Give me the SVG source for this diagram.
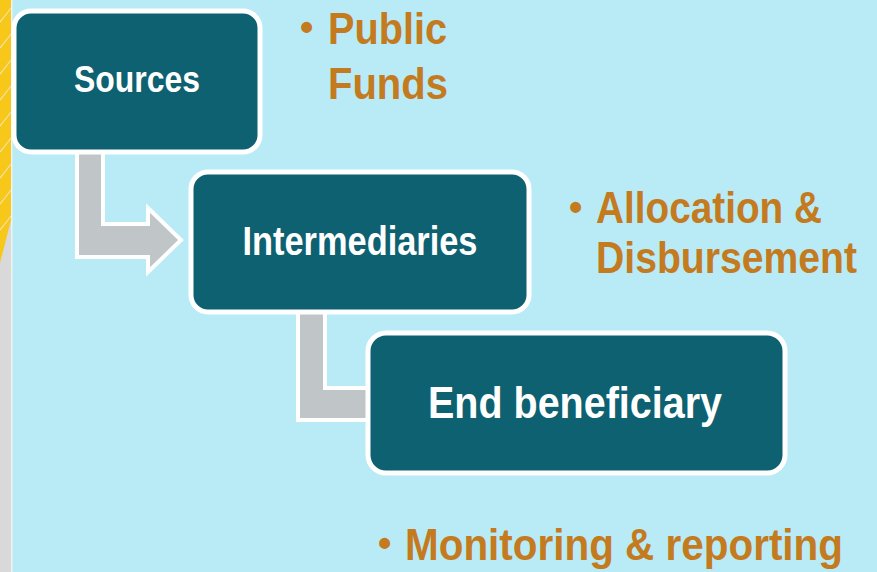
<svg xmlns="http://www.w3.org/2000/svg" width="877" height="572" viewBox="0 0 877 572">
<style>
.box{fill:#0d6170;stroke:#ffffff;stroke-width:5}
.lbl{font-family:"Liberation Sans",Arial,sans-serif;font-weight:bold;fill:#ffffff;text-anchor:middle}
.bul{font-family:"Liberation Sans",Arial,sans-serif;font-weight:bold;fill:#c47a1e;font-size:44px}
.dot{font-family:"Liberation Sans",Arial,sans-serif;font-weight:bold;fill:#c47a1e;font-size:38px}
.conn{fill:#c0c6c8;stroke:#ffffff;stroke-width:4;stroke-linejoin:miter}
.deco{stroke:#f2e3a6;stroke-width:1.2;fill:none}
</style>
<rect x="0" y="0" width="877" height="572" fill="#b9ebf6"/>
<g id="side-strip">
<rect x="0" y="0" width="12" height="572" fill="#d9d9d9"/>
<polygon points="0,0 11,0 11,220 0,263" fill="#f7c81a"/>
<path class="deco" d="M0,22 Q5,16 11,8 M0,48 Q5,42 11,34 M0,74 Q5,68 11,60 M0,100 Q5,94 11,86 M0,126 Q5,120 11,112 M0,152 Q5,146 11,138 M0,178 Q5,172 11,164 M0,204 Q5,198 11,190 M0,230 Q5,224 11,216"/>
<rect x="11" y="0" width="1.5" height="572" fill="#f2f2f2"/>
</g>
<g id="connectors">
<polygon class="conn" points="77,140 103,140 103,224 148,224 148,208 181,240 148,272 148,257 77,257"/>
<polygon class="conn" points="298,300 325,300 325,388 380,388 380,420 298,420"/>
</g>
<g id="sources">
<rect class="box" x="14" y="11" width="246" height="141" rx="17"/>
<text class="lbl" x="137" y="92" font-size="36" textLength="126" lengthAdjust="spacingAndGlyphs">Sources</text>
</g>
<g id="intermediaries">
<rect class="box" x="191" y="172" width="338" height="140" rx="17"/>
<text class="lbl" x="360" y="255" font-size="40" textLength="235" lengthAdjust="spacingAndGlyphs">Intermediaries</text>
</g>
<g id="end-beneficiary">
<rect class="box" x="368" y="333" width="417" height="140" rx="18"/>
<text class="lbl" x="575" y="418" font-size="45" textLength="294" lengthAdjust="spacingAndGlyphs">End beneficiary</text>
</g>
<g id="notes">
<text class="dot" x="300" y="40">•</text>
<text class="bul" x="328" y="44" textLength="119" lengthAdjust="spacingAndGlyphs">Public</text>
<text class="bul" x="328" y="99" textLength="120" lengthAdjust="spacingAndGlyphs">Funds</text>
<text class="dot" x="569" y="220">•</text>
<text class="bul" x="596" y="223" textLength="226" lengthAdjust="spacingAndGlyphs">Allocation &amp;</text>
<text class="bul" x="596" y="273" textLength="261" lengthAdjust="spacingAndGlyphs">Disbursement</text>
<text class="dot" x="378" y="556">•</text>
<text class="bul" x="405" y="560" textLength="438" lengthAdjust="spacingAndGlyphs">Monitoring &amp; reporting</text>
</g>
</svg>
